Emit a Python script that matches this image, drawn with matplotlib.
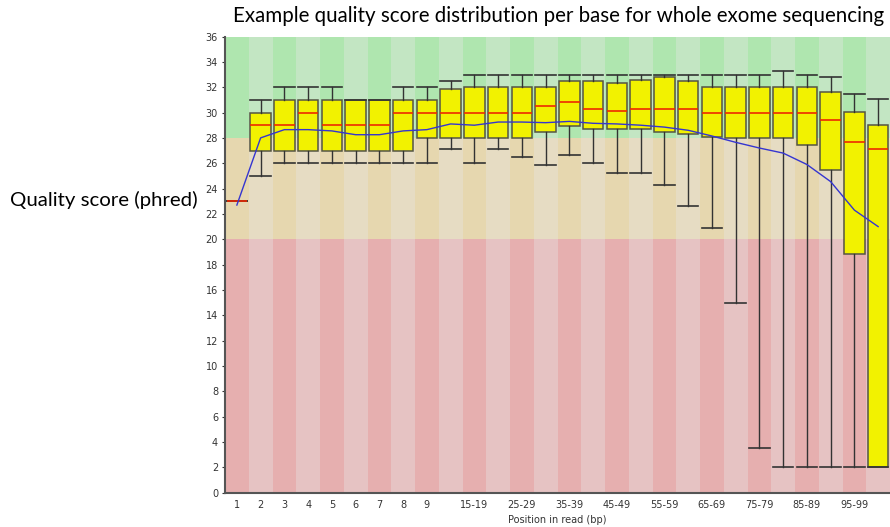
import matplotlib
matplotlib.use("Agg")
import matplotlib.pyplot as plt
from matplotlib.patches import Rectangle

# read positions (single bases, then 5 bp groups)
labels = ['1', '2', '3', '4', '5', '6', '7', '8', '9',
          '10-14', '15-19', '20-24', '25-29', '30-34', '35-39', '40-44',
          '45-49', '50-54', '55-59', '60-64', '65-69', '70-74', '75-79',
          '80-84', '85-89', '90-94', '95-99', '100-101']

medians = [23, 29, 29, 30, 29, 29, 29, 30, 30,
           30, 30, 30, 30, 30.5, 30.8, 30.25, 30.1, 30.25, 30.25, 30.25,
           30, 30, 30, 30, 30, 29.45, 27.65, 27.1]
q1 = [23, 27, 27, 27, 27, 27, 27, 27, 28,
      28, 28, 28, 28, 28.5, 28.9, 28.7, 28.7, 28.7, 28.5, 28.3,
      28.1, 28, 28, 28, 27.45, 25.45, 18.85, 2]
q3 = [23, 30, 31, 31, 31, 31, 31, 31, 31,
      31.85, 32, 32, 32, 32, 32.5, 32.5, 32.3, 32.6, 32.8, 32.5,
      32, 32, 32, 32, 32, 31.65, 30.05, 29]
whisker_lo = [23, 25, 26, 26, 26, 26, 26, 26, 26,
              27.1, 26, 27.1, 26.5, 25.85, 26.65, 26.05, 25.25, 25.25, 24.25, 22.65,
              20.85, 15, 3.5, 2, 2, 2, 2, 2]
whisker_hi = [23, 31, 32, 32, 32, 31, 31, 32, 32,
              32.5, 33, 33, 33, 33, 33, 33, 33, 33, 33, 33,
              33, 33, 33, 33.3, 33, 32.8, 31.45, 31.05]
means = [22.7, 28.0, 28.65, 28.65, 28.55, 28.25, 28.25, 28.55, 28.65,
         29.1, 29.0, 29.25, 29.25, 29.2, 29.3, 29.15, 29.1, 29.0, 28.85, 28.6,
         28.15, 27.65, 27.2, 26.8, 25.9, 24.55, 22.3, 21.0]

# quality bands: (low, high, dark colour, light colour)
bands = [(0, 20, '#e6afaf', '#e6c3c3'),
         (20, 28, '#e6d7af', '#e6dcc3'),
         (28, 36, '#afe6af', '#c3e6c3')]

fig = plt.figure(figsize=(8.9, 5.27), dpi=100)
ax = fig.add_axes([225 / 890, 1 - 492.7 / 527, 665 / 890, 456.2 / 527])

n = len(labels)
pos = list(range(1, n + 1))

for i in range(n):
    for lo, hi, dark, light in bands:
        ax.add_patch(Rectangle((i + 0.5, lo), 1, hi - lo,
                               facecolor=dark if i % 2 == 0 else light,
                               edgecolor='none', zorder=0))

stats = []
for i in range(n):
    stats.append(dict(med=medians[i], q1=q1[i], q3=q3[i],
                      whislo=whisker_lo[i], whishi=whisker_hi[i], label=labels[i]))

ax.bxp(stats, positions=pos, widths=0.86, showfliers=False, patch_artist=True,
       boxprops=dict(facecolor='#f2f200', edgecolor='#555544', linewidth=1.1),
       medianprops=dict(color='#ee2a00', linewidth=1.2),
       whiskerprops=dict(color='#333333', linewidth=1.0),
       capprops=dict(color='#333333', linewidth=1.2),
       capwidths=0.86, zorder=3)

ax.plot(pos, means, color='#3535d0', linewidth=1.0, zorder=4)

ax.set_xlim(0.5, n + 0.5)
ax.set_ylim(0, 36)
ax.set_yticks(range(0, 37, 2))
ax.tick_params(axis='y', labelsize=7, colors='#333333', length=2, pad=3)
shown = [lab if (i < 9 or (i - 9) % 2 == 1) else '' for i, lab in enumerate(labels)]
ax.set_xticks(pos)
ax.set_xticklabels(shown)
ax.tick_params(axis='x', labelsize=7, colors='#333333', length=0, pad=5)
ax.set_xlabel('Position in read (bp)', fontsize=7, color='#333333', labelpad=4)

for side in ('top', 'right'):
    ax.spines[side].set_visible(False)
for side in ('left', 'bottom'):
    ax.spines[side].set_color('#555555')
    ax.spines[side].set_linewidth(1.5)

fig.text(559 / 890, 1 - 16 / 527, 'Example quality score distribution per base for whole exome sequencing',
         ha='center', va='center', fontsize=14.8, family='Lato', color='black')
fig.text(10 / 890, 1 - 200 / 527, 'Quality score (phred)',
         ha='left', va='center', fontsize=14.7, family='Lato', color='black')

fig.savefig('out.png', dpi=100)
